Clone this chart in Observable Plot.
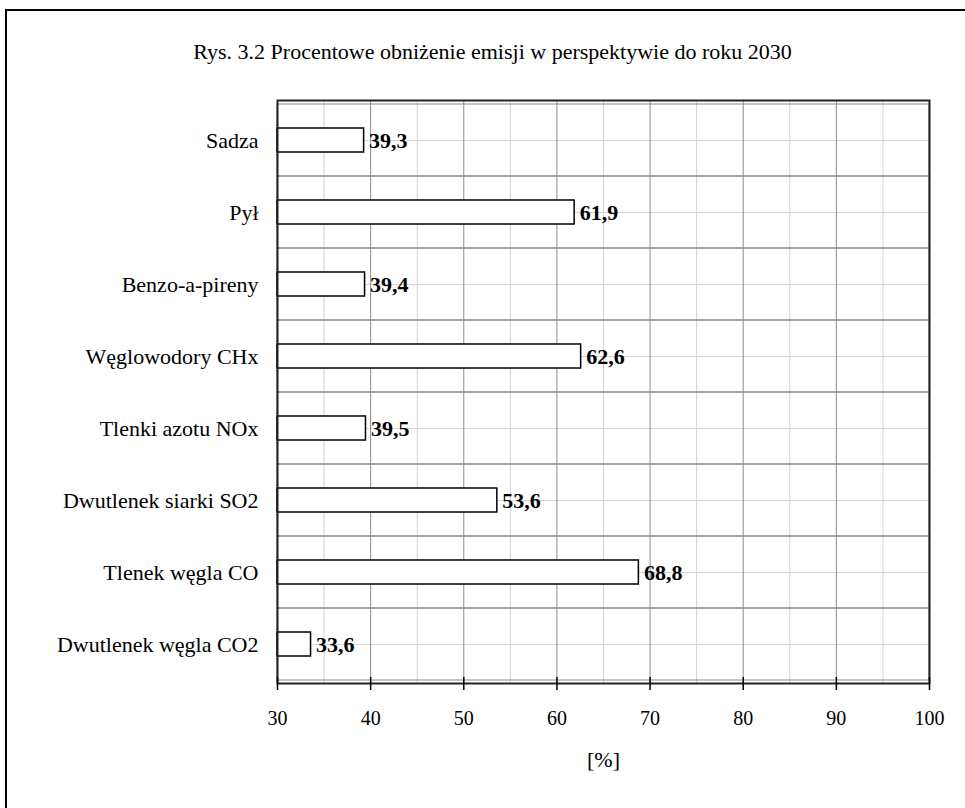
<!DOCTYPE html>
<html>
<head>
<meta charset="utf-8">
<script src="https://cdn.jsdelivr.net/npm/d3@7"></script>
<script src="https://cdn.jsdelivr.net/npm/@observablehq/plot@0.6"></script>
<style>
  body { margin: 0; background: #fff; }
  #wrap { position: relative; width: 965px; height: 808px; overflow: hidden; font-family: "Liberation Serif", "Times New Roman", serif; }
  #border { position: absolute; left: 5px; top: 9px; width: 2000px; height: 2000px; border-top: 2px solid #000; border-left: 2px solid #000; box-sizing: border-box; }
  #title { position: absolute; left: 0; width: 985px; top: 41px; text-align: center; font-size: 22px; line-height: 22px; color: #000; white-space: nowrap; }
  #chart { position: absolute; left: 0; top: 0; }
</style>
</head>
<body>
<div id="wrap">
  <div id="border"></div>
  <div id="title"></div>
  <div id="chart"></div>
</div>
<script>
const titleText = "Rys. 3.2 Procentowe obniżenie emisji w perspektywie do roku 2030";
const xLabel = "[%]";
const categories = [
  "Sadza",
  "Pył",
  "Benzo-a-pireny",
  "Węglowodory CHx",
  "Tlenki azotu NOx",
  "Dwutlenek siarki SO2",
  "Tlenek węgla CO",
  "Dwutlenek węgla CO2"
];
const values = [39.3, 61.9, 39.4, 62.6, 39.5, 53.6, 68.8, 33.6];
const xDomain = [30, 100];
const majorTicks = [30, 40, 50, 60, 70, 80, 90, 100];
const minorTicks = [35, 45, 55, 65, 75, 85, 95];

const data = categories.map((c, i) => ({cat: c, value: values[i]}));
const fmt = v => v.toFixed(1).replace(".", ",");

document.getElementById("title").textContent = titleText;

const chart = Plot.plot({
  width: 965,
  height: 808,
  marginLeft: 277,
  marginRight: 36,
  marginTop: 100,
  marginBottom: 125,
  style: {background: "transparent", fontFamily: "Liberation Serif, Times New Roman, serif", fontSize: "22px", color: "#000"},
  x: {domain: xDomain, axis: null},
  y: {domain: categories, padding: 0, axis: null},
  marks: [
    Plot.ruleX(minorTicks, {x: d => d, stroke: "#d2d2d2", strokeWidth: 1}),
    Plot.ruleY(categories, {y: d => d, stroke: "#d6d6d6", strokeWidth: 1}),
    Plot.ruleX(majorTicks, {x: d => d, stroke: "#8a8a8a", strokeWidth: 1}),
    Plot.barX(categories, {y: d => d, x1: xDomain[0], x2: xDomain[1], fill: "none", stroke: "#8a8a8a", strokeWidth: 1}),
    Plot.barX(data, {y: "cat", x1: xDomain[0], x2: "value", fill: "#fff", stroke: "#000", strokeWidth: 1.5, insetTop: 24, insetBottom: 24}),
    Plot.text(data, {y: "cat", x: "value", text: d => fmt(d.value), dx: 5, textAnchor: "start", fontWeight: "bold", fontSize: 22, fill: "#000"}),
    Plot.frame({stroke: "#222", strokeWidth: 2}),
    Plot.axisY({tickSize: 0, tickPadding: 19, fontSize: 22, label: null}),
    Plot.axisX({ticks: majorTicks, tickSize: 13, dy: -6, tickFormat: () => "", label: null, stroke: "#000", strokeWidth: 1.5}),
    Plot.axisX({ticks: majorTicks, tickSize: 0, tickPadding: 27, fontSize: 20, label: null}),
    Plot.text([xLabel], {frameAnchor: "bottom", dy: 83, fontSize: 22, fill: "#000"})
  ]
});
document.getElementById("chart").appendChild(chart);
</script>
</body>
</html>
